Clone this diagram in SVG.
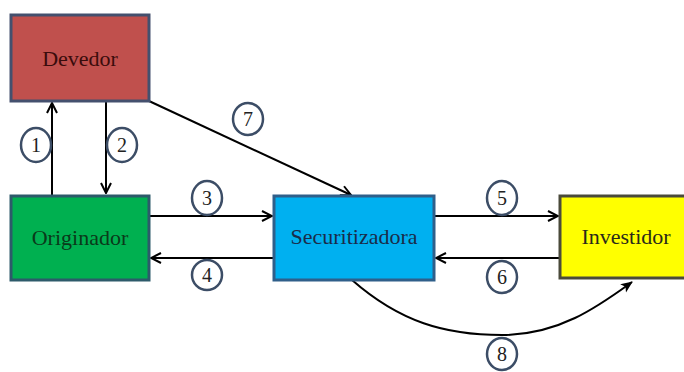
<svg xmlns="http://www.w3.org/2000/svg" width="684" height="372" viewBox="0 0 684 372">
<defs>
<marker id="open" viewBox="0 0 12 12" refX="11" refY="6" markerWidth="12" markerHeight="12" markerUnits="userSpaceOnUse" orient="auto">
<path d="M1,1 L11,6 L1,11" fill="none" stroke="#000" stroke-width="2"/>
</marker>
<marker id="solid" viewBox="0 0 12 12" refX="11" refY="6" markerWidth="12" markerHeight="12" markerUnits="userSpaceOnUse" orient="auto">
<path d="M0,1 L12,6 L0,11 L3,6 Z" fill="#000"/>
</marker>
</defs>
<style>
.box{stroke-width:3}
.lbl{font-size:22px;text-anchor:middle}
.num{font-size:20px;text-anchor:middle;fill:#222}
.circ{fill:#fff;stroke:#3c4d66;stroke-width:2.5}
.arr{fill:none;stroke:#000;stroke-width:2}
</style>
<rect width="684" height="372" fill="#fff"/>
<g id="connectors">
<line class="arr" x1="52" y1="195" x2="52" y2="103" marker-end="url(#open)"/>
<line class="arr" x1="106" y1="101" x2="106" y2="193" marker-end="url(#open)"/>
<line class="arr" x1="149" y1="101" x2="351" y2="195" marker-end="url(#open)"/>
<line class="arr" x1="149" y1="216" x2="272" y2="216" marker-end="url(#open)"/>
<line class="arr" x1="274" y1="258" x2="151" y2="258" marker-end="url(#open)"/>
<line class="arr" x1="434" y1="216" x2="558" y2="216" marker-end="url(#open)"/>
<line class="arr" x1="560" y1="258" x2="436" y2="258" marker-end="url(#open)"/>
<path class="arr" d="M352,280 C400,322 445,335 502,335 C560,335 600,305 632,282" marker-end="url(#solid)"/>
</g>
<g id="devedor">
<rect class="box" x="11" y="15" width="138" height="86" fill="#c0504d" stroke="#44506e"/>
<text class="lbl" font-family="Liberation Serif, Times New Roman, serif" x="80" y="66" fill="#3a0c0c">Devedor</text>
</g>
<g id="originador">
<rect class="box" x="11" y="196" width="138" height="84" fill="#00b050" stroke="#2d5a6a"/>
<text class="lbl" font-family="Liberation Serif, Times New Roman, serif" x="80" y="245" fill="#0a3a1a">Originador</text>
</g>
<g id="securitizadora">
<rect class="box" x="274" y="196" width="160" height="84" fill="#00b0f0" stroke="#2f5f8a"/>
<text class="lbl" font-family="Liberation Serif, Times New Roman, serif" x="354" y="244" fill="#1a2c4a">Securitizadora</text>
</g>
<g id="investidor">
<rect class="box" x="560" y="196" width="126" height="82" fill="#ffff00" stroke="#4a4a3a"/>
<text class="lbl" font-family="Liberation Serif, Times New Roman, serif" x="626" y="244" fill="#2a2a1a">Investidor</text>
</g>
<g id="labels" font-family="Liberation Serif, Times New Roman, serif">
<g id="n1"><ellipse class="circ" cx="36" cy="145" rx="15" ry="17"/><text class="num" x="36" y="152">1</text></g>
<g id="n2"><ellipse class="circ" cx="122" cy="145" rx="15" ry="17"/><text class="num" x="122" y="152">2</text></g>
<g id="n7"><ellipse class="circ" cx="248" cy="119" rx="15" ry="16"/><text class="num" x="248" y="126">7</text></g>
<g id="n3"><ellipse class="circ" cx="207" cy="198" rx="15" ry="17"/><text class="num" x="207" y="205">3</text></g>
<g id="n4"><ellipse class="circ" cx="207" cy="275" rx="15" ry="15"/><text class="num" x="207" y="282">4</text></g>
<g id="n5"><ellipse class="circ" cx="502" cy="198" rx="15" ry="17"/><text class="num" x="502" y="205">5</text></g>
<g id="n6"><ellipse class="circ" cx="502" cy="277" rx="15" ry="16"/><text class="num" x="502" y="284">6</text></g>
<g id="n8"><ellipse class="circ" cx="502" cy="354" rx="15" ry="16"/><text class="num" x="502" y="361">8</text></g>
</g>
</svg>
